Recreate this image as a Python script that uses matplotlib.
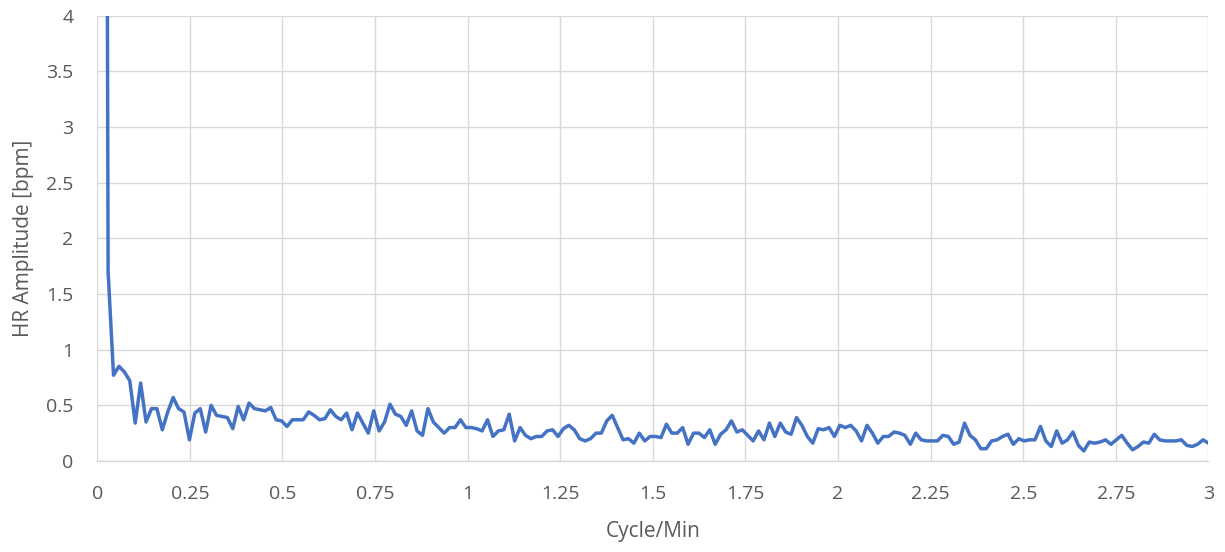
import numpy as np
from matplotlib import pyplot as plt

# spectrum bins: bin k sits at k * 3/205 cycle/min (bin 205 == 3.0)
bin_step = 3 / 205
first_bin = 1

# HR amplitude [bpm] per bin (bin 1 runs off the top)
amp = [20.0, 1.70,
       0.77, 0.85, 0.80, 0.72, 0.34, 0.70, 0.35, 0.47, 0.47, 0.28,
       0.44, 0.57, 0.47, 0.44, 0.19, 0.43, 0.47, 0.26, 0.50, 0.41,
       0.40, 0.39, 0.29, 0.49, 0.37, 0.52, 0.47, 0.46, 0.45, 0.48,
       0.37, 0.36, 0.31,
       0.37, 0.37, 0.37, 0.44, 0.41, 0.37, 0.38, 0.46, 0.40, 0.37,
       0.43, 0.28, 0.43, 0.34, 0.25, 0.45, 0.27, 0.35, 0.51, 0.42,
       0.40, 0.32, 0.45, 0.27, 0.23, 0.47, 0.35, 0.30, 0.25, 0.30,
       0.30, 0.37, 0.30, 0.30, 0.29,
       0.27, 0.37, 0.22, 0.27, 0.28, 0.42, 0.18, 0.30, 0.23, 0.20,
       0.22, 0.22, 0.27, 0.28, 0.22, 0.29, 0.32, 0.28, 0.20, 0.18,
       0.20, 0.25, 0.25, 0.36, 0.41, 0.30, 0.19, 0.20, 0.16, 0.25,
       0.18, 0.22, 0.22, 0.21, 0.33,
       0.25, 0.25, 0.30, 0.15, 0.25, 0.25, 0.21, 0.28, 0.15, 0.24,
       0.28, 0.36, 0.26, 0.28, 0.23, 0.18, 0.27, 0.19, 0.34, 0.22,
       0.34, 0.26, 0.24, 0.39, 0.32, 0.22, 0.16, 0.29, 0.28, 0.30,
       0.22, 0.32, 0.30, 0.32,
       0.27, 0.18, 0.32, 0.25, 0.16, 0.22, 0.22, 0.26, 0.25, 0.23,
       0.15, 0.25, 0.19, 0.18, 0.18, 0.18, 0.23, 0.22, 0.15, 0.17,
       0.34, 0.23, 0.19, 0.11, 0.11, 0.18, 0.19, 0.22, 0.24, 0.15,
       0.20, 0.18, 0.19, 0.19, 0.31, 0.18,
       0.13, 0.27, 0.16, 0.19, 0.26, 0.14, 0.09, 0.17, 0.16, 0.17,
       0.19, 0.15, 0.19, 0.23, 0.16, 0.10, 0.13, 0.17, 0.16, 0.24,
       0.19, 0.18, 0.18, 0.18, 0.19, 0.14, 0.13, 0.15, 0.19, 0.16]

x_ticks = [0, 0.25, 0.5, 0.75, 1, 1.25, 1.5, 1.75, 2, 2.25, 2.5, 2.75, 3]
x_labels = ['0', '0.25', '0.5', '0.75', '1', '1.25', '1.5', '1.75', '2',
            '2.25', '2.5', '2.75', '3']
y_ticks = [0, 0.5, 1, 1.5, 2, 2.5, 3, 3.5, 4]
y_labels = ['0', '0.5', '1', '1.5', '2', '2.5', '3', '3.5', '4']

freq = (np.arange(len(amp)) + first_bin) * bin_step

plt.rcParams['font.family'] = ['Open Sans', 'DejaVu Sans']
txt = '#595959'
grid = '#d9d9d9'

fig = plt.figure(figsize=(12.25, 5.52), dpi=100)
ax = fig.add_axes([0.0794, 0.1649, 0.9071, 0.8070])

ax.plot(freq, amp, color='#4472c4', lw=2.5, solid_joinstyle='round', zorder=3)

ax.set_xlim(0, 3)
ax.set_ylim(0, 4)
ax.set_xticks(x_ticks)
ax.set_xticklabels(x_labels)
ax.set_yticks(y_ticks)
ax.set_yticklabels(y_labels)
ax.grid(True, color=grid, lw=1.0)
ax.set_axisbelow(True)
for s in ['top', 'right', 'left']:
    ax.spines[s].set_visible(False)
ax.spines['bottom'].set_color(grid)
ax.spines['bottom'].set_linewidth(1.0)
ax.tick_params(length=0, labelsize=14, labelcolor=txt)
ax.tick_params(axis='x', pad=17)
ax.tick_params(axis='y', pad=17)

ax.set_xlabel('Cycle/Min', fontsize=15, color=txt, labelpad=13)
ax.set_ylabel('HR Amplitude [bpm]', fontsize=15, color=txt, labelpad=9)

fig.savefig('out.png', dpi=100)
